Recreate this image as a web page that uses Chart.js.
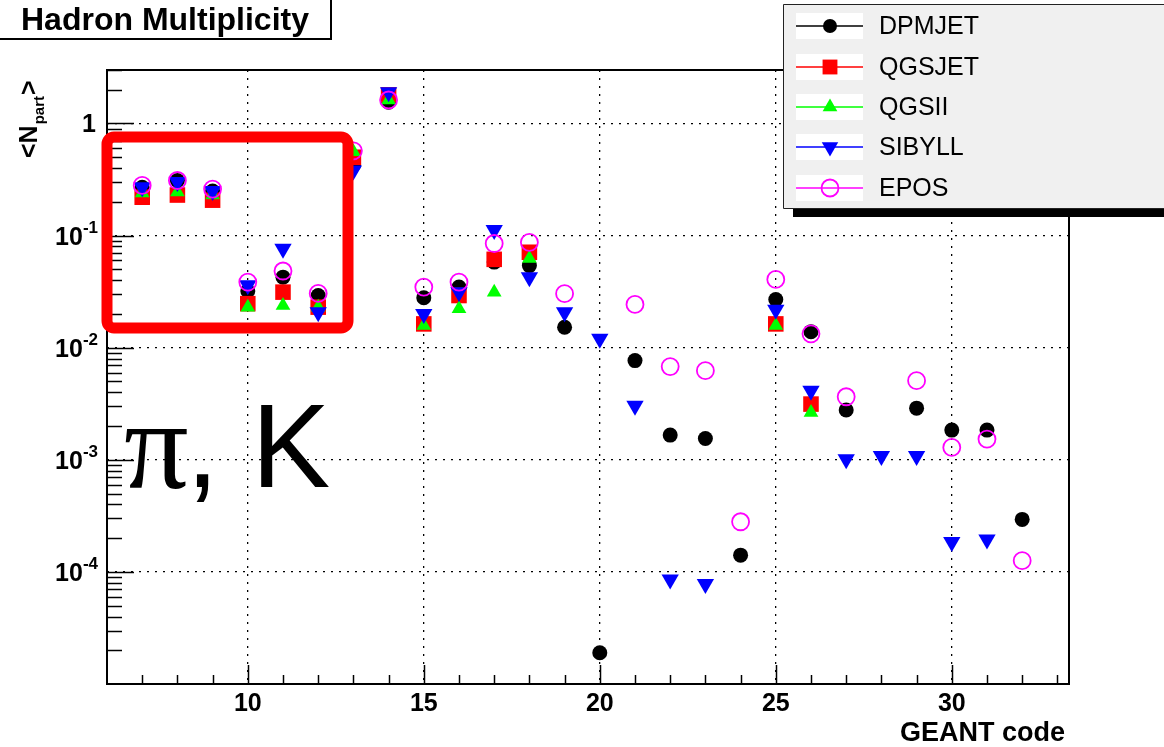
<!DOCTYPE html>
<html>
<head>
<meta charset="utf-8">
<title>Hadron Multiplicity</title>
<script src="https://cdn.jsdelivr.net/npm/chart.js@4.4.1/dist/chart.umd.min.js"></script>
<style>
  html, body { margin: 0; padding: 0; background: #fff; }
  #wrap { position: relative; width: 1164px; height: 747px; }
</style>
</head>
<body>
<div id="wrap"><canvas id="multChart"></canvas></div>
<script>
// GEANT particle codes (x axis)
let geantCodes = [7, 8, 9, 10, 11, 12, 13, 14, 15, 16, 17, 18, 19, 20, 21, 22, 23, 24, 25, 26, 27, 28, 29, 30, 31, 32];

// <N_part> per generator, null = no point
let dpmjet = [0.27, 0.31, 0.25, 0.032, 0.0426, 0.0292, 0.425, 1.55, 0.0279, 0.0347, 0.058, 0.054, 0.0152, 1.9e-5, 0.00767, 0.00166, 0.00155, 1.41e-4, 0.0269, 0.0139, 0.00278, null, 0.00289, 0.00184, 0.00184, 2.94e-4];
let qgsjet = [0.22, 0.23, 0.207, 0.0247, 0.0313, 0.023, 0.5, 1.8, 0.0163, 0.0292, 0.0614, 0.071, null, null, null, null, null, null, 0.0163, 0.00314, null, null, null, null, null, null];
let qgsii  = [0.24, 0.245, 0.23, 0.023, 0.0238, 0.023, 0.56, 1.62, 0.0158, 0.0222, 0.0313, 0.0626, null, null, null, null, null, null, 0.0158, 0.00264, null, null, null, null, null, null];
let sibyll = [0.27, 0.30, 0.25, 0.036, 0.0765, 0.0207, 0.38, 1.9, 0.020, 0.0313, 0.112, 0.0426, 0.0207, 0.012, 0.00304, 8.55e-5, 7.8e-5, null, 0.0218, 0.00413, 0.00101, 0.00108, 0.00108, 1.85e-4, 1.95e-4, null];
let epos   = [0.28, 0.31, 0.26, 0.0385, 0.0483, 0.0305, 0.57, 1.62, 0.0347, 0.0385, 0.085, 0.087, 0.0303, null, 0.0243, 0.00678, 0.00624, 2.8e-4, 0.0406, 0.0133, 0.00365, null, 0.00508, 0.00129, 0.00153, 1.26e-4];

// axis ticks
let xMajorTicks = [10, 15, 20, 25, 30];
let xTickLabels = ['10', '15', '20', '25', '30'];
let yMajorTicks = [1e-4, 1e-3, 1e-2, 1e-1, 1];
let yTickExps   = ['-4', '-3', '-2', '-1', ''];

function toPoints(vals) {
    return geantCodes.map((c, i) => ({x: c, y: vals[i]})).filter(p => p.y !== null);
}

let sans = '"Liberation Sans", Arial, Helvetica, sans-serif';

function line(ctx, x1, y1, x2, y2) {
    ctx.beginPath();
    ctx.moveTo(x1, y1);
    ctx.lineTo(x2, y2);
    ctx.stroke();
}

// frame and ROOT style inner ticks
let frameTicks = {
    id: 'frameTicks',
    beforeDatasetsDraw(chart) {
        let ctx = chart.ctx, a = chart.chartArea;
        let xs = chart.scales.x, ys = chart.scales.y;
        ctx.save();
        ctx.strokeStyle = '#000';
        ctx.lineWidth = 1.5;
        for (let e = -5; e <= 0; e++) {
            for (let m = 1; m <= 9; m++) {
                let v = m * Math.pow(10, e);
                if (v <= ys.min * 1.0001 || v > ys.max) continue;
                let py = Math.round(ys.getPixelForValue(v)) + 0.5;
                line(ctx, a.left, py, a.left + (m === 1 ? 27 : 15), py);
            }
        }
        for (let c = 7; c <= 33; c++) {
            let px = Math.round(xs.getPixelForValue(c)) + 0.5;
            line(ctx, px, a.bottom, px, a.bottom - (c % 5 === 0 ? 19 : 9));
        }
        ctx.lineWidth = 2;
        ctx.strokeRect(a.left, a.top, a.right - a.left, a.bottom - a.top);
        ctx.restore();
    }
};

// labels, titles, annotations, legend
let decorations = {
    id: 'decorations',
    afterDraw(chart) {
        let ctx = chart.ctx, a = chart.chartArea;
        let xs = chart.scales.x, ys = chart.scales.y;
        ctx.save();
        ctx.fillStyle = '#000';

        // x tick labels
        ctx.font = 'bold 25px ' + sans;
        ctx.textAlign = 'center';
        ctx.textBaseline = 'alphabetic';
        xMajorTicks.forEach((v, i) => {
            ctx.fillText(xTickLabels[i], xs.getPixelForValue(v), a.bottom + 27);
        });

        // y tick labels 10^n
        ctx.textAlign = 'right';
        yMajorTicks.forEach((v, i) => {
            let py = ys.getPixelForValue(v);
            let exp = yTickExps[i];
            if (exp === '') {
                ctx.font = 'bold 25px ' + sans;
                ctx.fillText('1', 96, py + 9);
                return;
            }
            ctx.font = 'bold 17px ' + sans;
            let w = ctx.measureText(exp).width;
            ctx.fillText(exp, 98, py - 3);
            ctx.font = 'bold 25px ' + sans;
            ctx.fillText('10', 98 - w, py + 9);
        });

        // x axis title
        ctx.font = 'bold 27px ' + sans;
        ctx.textAlign = 'right';
        ctx.fillText('GEANT code', 1065, 741);

        // y axis title <N_part>
        ctx.save();
        ctx.translate(37, 158);
        ctx.rotate(-Math.PI / 2);
        ctx.textAlign = 'left';
        ctx.font = 'bold 25px ' + sans;
        ctx.fillText('<N', 0, 0);
        let w1 = ctx.measureText('<N').width;
        ctx.font = 'bold 15px ' + sans;
        ctx.fillText('part', w1 + 1, 7);
        let w2 = ctx.measureText('part').width;
        ctx.font = 'bold 25px ' + sans;
        ctx.fillText('>', w1 + w2 + 2, 0);
        ctx.restore();

        // title box
        ctx.fillStyle = '#fff';
        ctx.fillRect(0, 0, 331, 39);
        ctx.strokeStyle = '#000';
        ctx.lineWidth = 2;
        ctx.strokeRect(-1, -1, 332, 40);
        ctx.fillStyle = '#000';
        ctx.textAlign = 'left';
        ctx.font = 'bold 32px ' + sans;
        ctx.fillText('Hadron Multiplicity', 21, 30);

        // pi, K
        ctx.font = '128px "Liberation Serif", "Times New Roman", serif';
        ctx.fillText('\u03C0', 124, 488);
        ctx.font = '118px ' + sans;
        ctx.fillText(', K', 186, 487);

        // red highlight box
        ctx.strokeStyle = '#ff0000';
        ctx.lineWidth = 11;
        ctx.lineJoin = 'round';
        ctx.beginPath();
        ctx.roundRect(107, 137, 241, 191, 7);
        ctx.stroke();

        // legend
        ctx.fillStyle = '#000';
        ctx.fillRect(793, 14, 400, 203);
        ctx.fillStyle = '#f0f0f0';
        ctx.fillRect(783, 4, 400, 204);
        ctx.strokeStyle = '#222';
        ctx.lineWidth = 1;
        ctx.strokeRect(783.5, 4.5, 400, 204);
        let rows = [26, 67, 107, 147, 188];
        chart.data.datasets.forEach((ds, i) => {
            let cy = rows[i];
            ctx.fillStyle = '#fff';
            ctx.fillRect(796, cy - 13, 67, 26);
            ctx.strokeStyle = ds.borderColor;
            ctx.lineWidth = 1.5;
            line(ctx, 796, cy, 863, cy);
            ctx.fillStyle = ds.backgroundColor;
            ctx.lineWidth = ds.borderWidth;
            Chart.helpers.drawPoint(ctx, {
                pointStyle: ds.pointStyle,
                radius: ds.legendRadius,
                rotation: ds.rotation || 0,
                borderWidth: ds.borderWidth
            }, 830, cy);
            ctx.fillStyle = '#000';
            ctx.font = '25px ' + sans;
            ctx.textAlign = 'left';
            ctx.textBaseline = 'middle';
            ctx.fillText(ds.label, 879, cy + 1);
        });
        ctx.restore();
    }
};

let ctx1 = document.getElementById('multChart').getContext('2d');

let chart1 = new Chart(ctx1, {
    type: 'scatter',
    data: {
        datasets: [
            {label: 'DPMJET', data: toPoints(dpmjet), order: 5, pointStyle: 'circle', pointRadius: 7.5, legendRadius: 7,
             backgroundColor: '#000000', borderColor: '#000000', borderWidth: 0},
            {label: 'QGSJET', data: toPoints(qgsjet), order: 4, pointStyle: 'rect', pointRadius: 11, legendRadius: 10.5,
             backgroundColor: '#ff0000', borderColor: '#ff0000', borderWidth: 0},
            {label: 'QGSII', data: toPoints(qgsii), order: 3, pointStyle: 'triangle', pointRadius: 8.5, legendRadius: 8.5,
             backgroundColor: '#00ff00', borderColor: '#00ff00', borderWidth: 0},
            {label: 'SIBYLL', data: toPoints(sibyll), order: 2, pointStyle: 'triangle', rotation: 180, pointRadius: 10, legendRadius: 9.5,
             backgroundColor: '#0000ff', borderColor: '#0000ff', borderWidth: 0},
            {label: 'EPOS', data: toPoints(epos), order: 1, pointStyle: 'circle', pointRadius: 8.5, legendRadius: 8.5,
             backgroundColor: 'rgba(0,0,0,0)', borderColor: '#ff00ff', borderWidth: 1.8}
        ]
    },
    options: {
        responsive: true,
        maintainAspectRatio: false,
        animation: false,
        events: [],
        layout: {
            padding: {left: 107, top: 70, right: 95, bottom: 63}
        },
        plugins: {
            legend: {display: false},
            tooltip: {enabled: false}
        },
        scales: {
            x: {
                type: 'linear',
                min: 6,
                max: 33.33,
                afterBuildTicks: (scale) => { scale.ticks = xMajorTicks.map(v => ({value: v})); },
                ticks: {display: false},
                grid: {color: '#000', lineWidth: 1.3, drawTicks: false},
                border: {display: false, dash: [2, 6]}
            },
            y: {
                type: 'logarithmic',
                min: 1e-5,
                max: 3,
                afterBuildTicks: (scale) => { scale.ticks = yMajorTicks.map(v => ({value: v})); },
                ticks: {display: false},
                grid: {color: '#000', lineWidth: 1.3, drawTicks: false},
                border: {display: false, dash: [2, 6]}
            }
        }
    },
    plugins: [frameTicks, decorations]
});
</script>
</body>
</html>
